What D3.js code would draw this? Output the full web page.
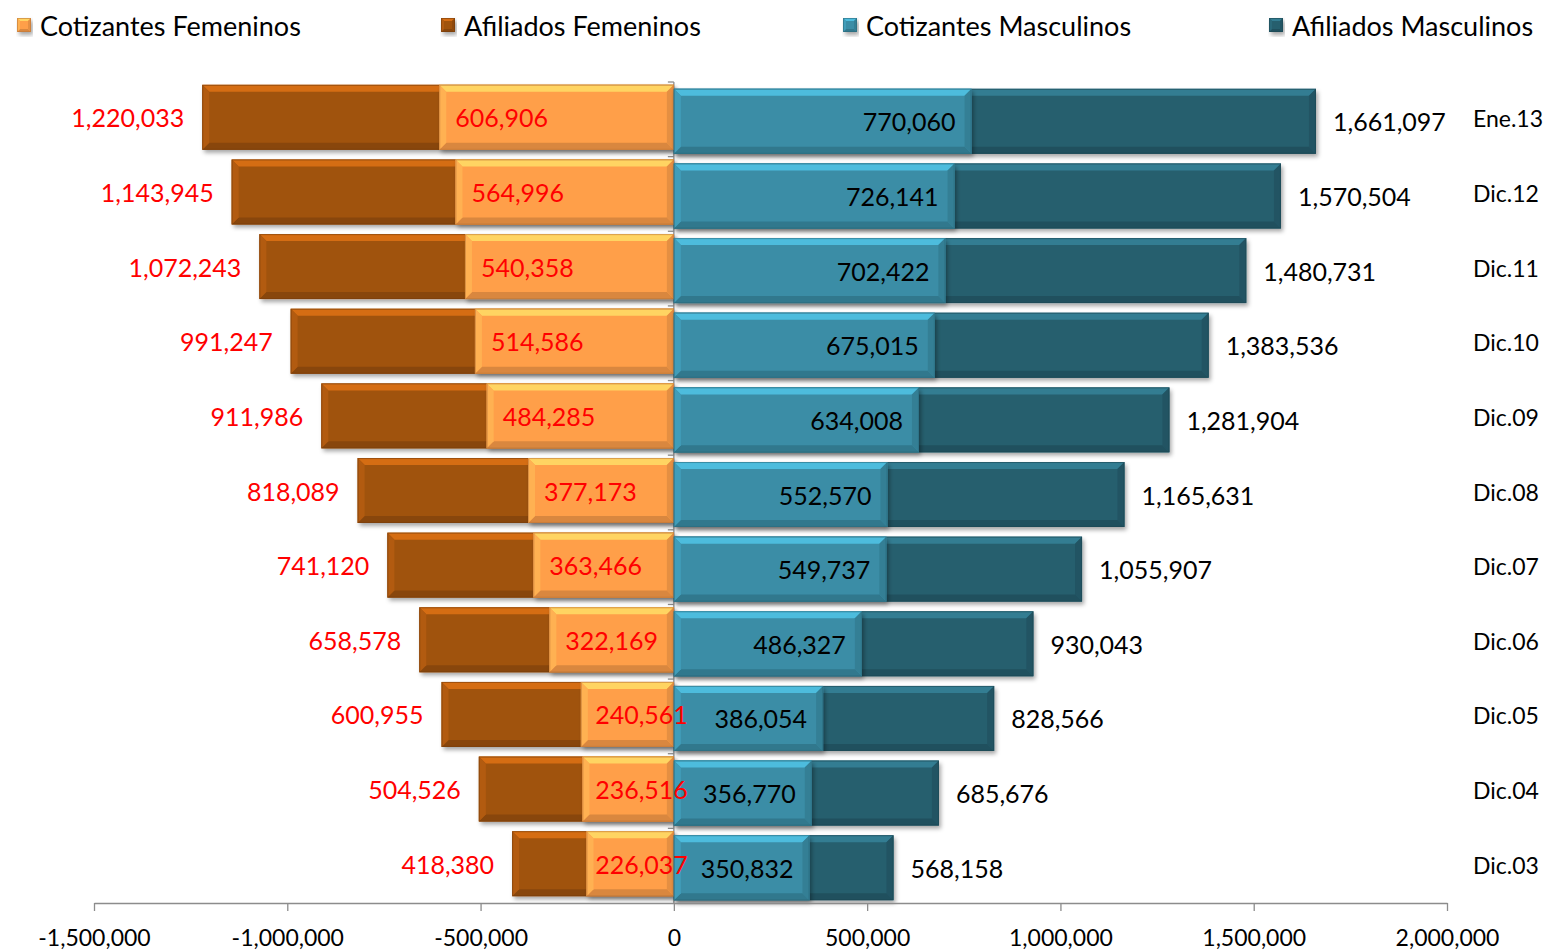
<!DOCTYPE html>
<html>
<head>
<meta charset="utf-8">
<script src="https://cdn.jsdelivr.net/npm/d3@7"></script>
<style>
  html, body { margin: 0; padding: 0; background: #fff; }
  svg { display: block; }
  text { font-family: Lato, "Liberation Sans", sans-serif; }
</style>
</head>
<body>
<svg id="chart" width="1550" height="951"></svg>
<script>
const categories = ["Ene.13","Dic.12","Dic.11","Dic.10","Dic.09","Dic.08","Dic.07","Dic.06","Dic.05","Dic.04","Dic.03"];
const cotizantesFemeninos = [606906,564996,540358,514586,484285,377173,363466,322169,240561,236516,226037];
const afiliadosFemeninos  = [1220033,1143945,1072243,991247,911986,818089,741120,658578,600955,504526,418380];
const cotizantesMasculinos = [770060,726141,702422,675015,634008,552570,549737,486327,386054,356770,350832];
const afiliadosMasculinos  = [1661097,1570504,1480731,1383536,1281904,1165631,1055907,930043,828566,685676,568158];
const tickValues = [-1500000,-1000000,-500000,0,500000,1000000,1500000,2000000];
const seriesNames = ["Cotizantes Femeninos","Afiliados Femeninos","Cotizantes Masculinos","Afiliados Masculinos"];
const seriesColors = ["#FF9F4A","#A0520E","#3A8DA6","#265E6E"];

const svg = d3.select("#chart");
const locale = d3.formatLocale({decimal: ".", thousands: ",", grouping: [3], currency: ["$", ""], minus: "-"});
const fmt = locale.format(",");

const x = d3.scaleLinear().domain([-1500000, 2000000]).range([94, 1447]);
const y = d3.scaleBand().domain(categories).range([82, 903]).paddingInner(0.13).paddingOuter(0.065);

// drop shadow filter
const defs = svg.append("defs");
const f = defs.append("filter").attr("id","shadow").attr("x","-5%").attr("y","-20%").attr("width","115%").attr("height","150%");
f.append("feDropShadow").attr("dx",2).attr("dy",3).attr("stdDeviation",2).attr("flood-color","#000").attr("flood-opacity",0.35);

function bevelBar(g, x0, x1, y0, y1, color, b) {
  const c = d3.color(color);
  const grp = g.append("g");
  grp.append("rect").attr("x",x0).attr("y",y0).attr("width",x1-x0).attr("height",y1-y0)
     .attr("fill",color).attr("filter","url(#shadow)");
  const polys = [
    {pts:[[x0,y0],[x1,y0],[x1-b,y0+b],[x0+b,y0+b]], col: c.brighter(0.8)},
    {pts:[[x0,y1],[x1,y1],[x1-b,y1-b],[x0+b,y1-b]], col: c.darker(0.45)},
    {pts:[[x0,y0],[x0+b,y0+b],[x0+b,y1-b],[x0,y1]], col: c.brighter(0.3)},
    {pts:[[x1,y0],[x1-b,y0+b],[x1-b,y1-b],[x1,y1]], col: c.darker(0.3)}
  ];
  polys.forEach(p => grp.append("polygon").attr("points", p.pts.map(q=>q.join(",")).join(" ")).attr("fill", p.col.formatHex()));
  grp.append("rect").attr("x",x0+0.5).attr("y",y0+0.5).attr("width",Math.max(0,x1-x0-1)).attr("height",y1-y0-1)
     .attr("fill","none").attr("stroke",c.darker(0.8).formatHex()).attr("stroke-width",1).attr("stroke-opacity",0.6);
}

// Vertical axis at 0
const x0px = x(0);
svg.append("line").attr("x1",x0px).attr("x2",x0px).attr("y1",82).attr("y2",903).attr("stroke","#8c8c8c").attr("stroke-width",1.3);
categories.forEach((c,i) => {
  const yy = 82 + y.step()*i;
  svg.append("line").attr("x1",x0px-6).attr("x2",x0px).attr("y1",yy).attr("y2",yy).attr("stroke","#8c8c8c").attr("stroke-width",1.3);
});

const bars = svg.append("g");
const femOff = -2, mascOff = 2;
const bw = y.bandwidth();
const bev = 7;

categories.forEach((c,i) => {
  const yb = y(c);
  bevelBar(bars, x(-afiliadosFemeninos[i]), x0px, yb+femOff, yb+femOff+bw, seriesColors[1], bev);
  bevelBar(bars, x(-cotizantesFemeninos[i]), x0px, yb+femOff, yb+femOff+bw, seriesColors[0], bev);
});
categories.forEach((c,i) => {
  const yb = y(c);
  bevelBar(bars, x0px, x(afiliadosMasculinos[i]), yb+mascOff, yb+mascOff+bw, seriesColors[3], bev);
  bevelBar(bars, x0px, x(cotizantesMasculinos[i]), yb+mascOff, yb+mascOff+bw, seriesColors[2], bev);
});

// Labels
const labels = svg.append("g").attr("font-size", 25);
categories.forEach((c,i) => {
  const yb = y(c);
  const fc = yb + femOff + bw/2;
  const mc = yb + mascOff + bw/2;
  labels.append("text").attr("x", x(-afiliadosFemeninos[i]) - 18).attr("y", fc)
    .attr("text-anchor","end").attr("dominant-baseline","central").attr("fill","#FF0000")
    .text(fmt(afiliadosFemeninos[i]));
  const t = labels.append("text").attr("y", fc).attr("dominant-baseline","central").attr("fill","#FF0000")
    .text(fmt(cotizantesFemeninos[i]));
  const w = t.node().getComputedTextLength();
  let lx = x(-cotizantesFemeninos[i]) + 16;
  if (lx + w > x0px + 14) lx = x0px + 14 - w;
  t.attr("x", lx);
  labels.append("text").attr("x", x(cotizantesMasculinos[i]) - 16).attr("y", mc)
    .attr("text-anchor","end").attr("dominant-baseline","central").attr("fill","#000")
    .text(fmt(cotizantesMasculinos[i]));
  labels.append("text").attr("x", x(afiliadosMasculinos[i]) + 17).attr("y", mc)
    .attr("text-anchor","start").attr("dominant-baseline","central").attr("fill","#000")
    .text(fmt(afiliadosMasculinos[i]));
  svg.append("text").attr("x",1473).attr("y", yb + bw/2 - 1).attr("font-size",23)
    .attr("dominant-baseline","central").attr("fill","#000").text(c);
});

// X axis
const xAxis = d3.axisBottom(x).tickValues(tickValues).tickSize(8).tickSizeOuter(0).tickFormat(fmt);
const ax = svg.append("g").attr("transform","translate(0,903)").call(xAxis);
ax.select(".domain").attr("stroke","#8c8c8c").attr("stroke-width",1.3);
ax.selectAll(".tick line").attr("stroke","#8c8c8c").attr("stroke-width",1.3);
ax.selectAll(".tick text").attr("font-size",23).attr("fill","#000").attr("dy",0).attr("y",34)
  .attr("dominant-baseline","central").attr("font-family","Lato, 'Liberation Sans', sans-serif");

// Legend
const legendX = [17, 441, 843, 1269];
const lg = svg.append("g");
seriesNames.forEach((n,i) => {
  const m = lg.append("g");
  bevelBar(m, legendX[i], legendX[i]+14, 18, 32, seriesColors[i], 3);
  lg.append("text").attr("x", legendX[i]+23).attr("y", 25).attr("font-size",27)
    .attr("dominant-baseline","central").attr("fill","#000").text(n);
});
</script>
</body>
</html>
